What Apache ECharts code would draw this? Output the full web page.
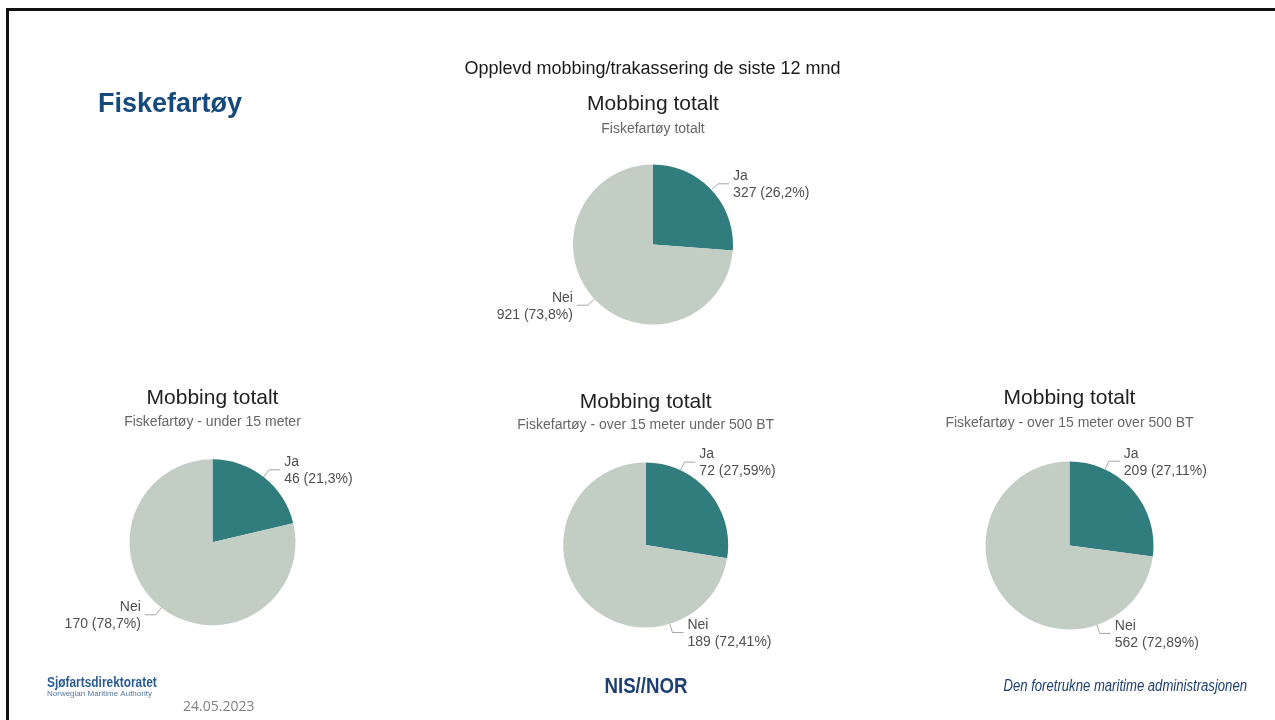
<!DOCTYPE html>
<html>
<head>
<meta charset="utf-8">
<title>Opplevd mobbing/trakassering de siste 12 mnd</title>
<script src="https://cdn.jsdelivr.net/npm/echarts@6/dist/echarts.min.js"></script>
<style>
  html, body { margin: 0; padding: 0; background: #ffffff; }
  #chart { width: 1275px; height: 720px; }
</style>
</head>
<body>
<div id="chart"></div>
<script>
// Answer categories shared by all four pies
const categories = ['Ja', 'Nei'];

// Respondent counts per answer (Ja, Nei)
const totalt = [327, 921];
const under15m = [46, 170];
const over15mUnder500BT = [72, 189];
const over15mOver500BT = [209, 562];

// Headings
const pageHeading = 'Opplevd mobbing/trakassering de siste 12 mnd';
const sectionHeading = 'Fiskefartøy';
const chartTitle = 'Mobbing totalt';
const subtitles = [
  'Fiskefartøy totalt',
  'Fiskefartøy - under 15 meter',
  'Fiskefartøy - over 15 meter under 500 BT',
  'Fiskefartøy - over 15 meter over 500 BT'
];
const groups = [totalt, under15m, over15mUnder500BT, over15mOver500BT];

// Layout of each pie panel (pixels) and where its callout lines leave the rim
const panels = [
  { cx: 653, cy: 244.5, r: 80, titleTop: 94, gap: 7, labelAngles: [47, 227] },
  { cx: 212.5, cy: 542.3, r: 83, titleTop: 388, gap: 6, labelAngles: [38, 218] },
  { cx: 645.7, cy: 545, r: 82.5, titleTop: 392, gap: 5, labelAngles: [25, 163] },
  { cx: 1069.5, cy: 545.5, r: 84, titleTop: 388, gap: 7, labelAngles: [25, 161] }
];

const colors = ['#317d7e', '#c2cdc4'];
const FONT = '"Liberation Sans", Arial, sans-serif';

function calloutLayout(params) {
  const p = panels[params.seriesIndex];
  const a = p.labelAngles[params.dataIndex] * Math.PI / 180;
  const ux = Math.sin(a), uy = -Math.cos(a);
  const p0 = [p.cx + p.r * ux, p.cy + p.r * uy];
  const p1 = [p0[0] + 9 * ux, p0[1] + 9 * uy];
  const dir = ux >= 0 ? 1 : -1;
  const p2 = [p1[0] + dir * 11, p1[1]];
  return {
    x: p2[0] + dir * 4,
    y: p2[1] + 1,
    align: dir > 0 ? 'left' : 'right',
    verticalAlign: 'middle',
    labelLinePoints: [p0, p1, p2]
  };
}

const series = groups.map((vals, i) => ({
  type: 'pie',
  center: [panels[i].cx, panels[i].cy],
  radius: panels[i].r,
  startAngle: 90,
  clockwise: true,
  percentPrecision: 2,
  animation: false,
  silent: true,
  itemStyle: { borderWidth: 0 },
  label: {
    show: true,
    fontFamily: FONT,
    fontSize: 14,
    lineHeight: 17,
    color: '#4f4f4f',
    formatter: (d) => d.name + '\n' + d.value + ' (' + String(d.percent).replace('.', ',') + '%)'
  },
  labelLine: {
    show: true,
    lineStyle: { color: '#a6a6a6', width: 1 }
  },
  labelLayout: calloutLayout,
  data: categories.map((c, k) => ({ name: c, value: vals[k], itemStyle: { color: colors[k] } }))
}));

const titles = panels.map((p, i) => ({
  text: chartTitle,
  subtext: subtitles[i],
  left: p.cx,
  top: p.titleTop,
  textAlign: 'center',
  padding: 0,
  itemGap: p.gap,
  textStyle: { fontFamily: FONT, fontSize: 21, fontWeight: 'normal', color: '#222222' },
  subtextStyle: { fontFamily: FONT, fontSize: 14, color: '#666666' }
}));

const chart = echarts.init(document.getElementById('chart'), null, { renderer: 'canvas' });
chart.setOption({
  backgroundColor: '#ffffff',
  animation: false,
  title: titles,
  series: series,
  graphic: [
    // slide frame
    { type: 'rect', shape: { x: 6, y: 8, width: 1275, height: 3 }, style: { fill: '#111111' }, silent: true },
    { type: 'rect', shape: { x: 6, y: 8, width: 3, height: 720 }, style: { fill: '#111111' }, silent: true },
    { type: 'text', x: 652.5, y: 69.5, style: { text: pageHeading, font: '18px ' + FONT, fill: '#1a1a1a', textAlign: 'center', textVerticalAlign: 'middle' }, silent: true },
    { type: 'text', x: 98, y: 105, style: { text: sectionHeading, font: 'bold 27px ' + FONT, fill: '#174a7c', textAlign: 'left', textVerticalAlign: 'middle' }, silent: true },
    // footer (condensed lettering via horizontal scale)
    { type: 'text', x: 47, y: 683, scaleX: 0.85, originX: 0, originY: 0, style: { text: 'Sjøfartsdirektoratet', font: 'bold 14px ' + FONT, fill: '#2b5c91', textAlign: 'left', textVerticalAlign: 'middle' }, silent: true },
    { type: 'text', x: 47, y: 694, style: { text: 'Norwegian Maritime Authority', font: '8px ' + FONT, fill: '#5577a0', textAlign: 'left', textVerticalAlign: 'middle' }, silent: true },
    { type: 'text', x: 183, y: 707, style: { text: '24.05.2023', font: '14px "Open Sans", sans-serif', fill: '#7f7f7f', textAlign: 'left', textVerticalAlign: 'middle' }, silent: true },
    { type: 'text', x: 646, y: 687, scaleX: 0.85, originX: 0, originY: 0, style: { text: 'NIS//NOR', font: 'bold 22px ' + FONT, fill: '#1d3f72', textAlign: 'center', textVerticalAlign: 'middle' }, silent: true },
    { type: 'text', x: 1247, y: 687, scaleX: 0.82, originX: 0, originY: 0, style: { text: 'Den foretrukne maritime administrasjonen', font: 'italic 16px ' + FONT, fill: '#1d3f72', textAlign: 'right', textVerticalAlign: 'middle' }, silent: true }
  ]
});
</script>
</body>
</html>
